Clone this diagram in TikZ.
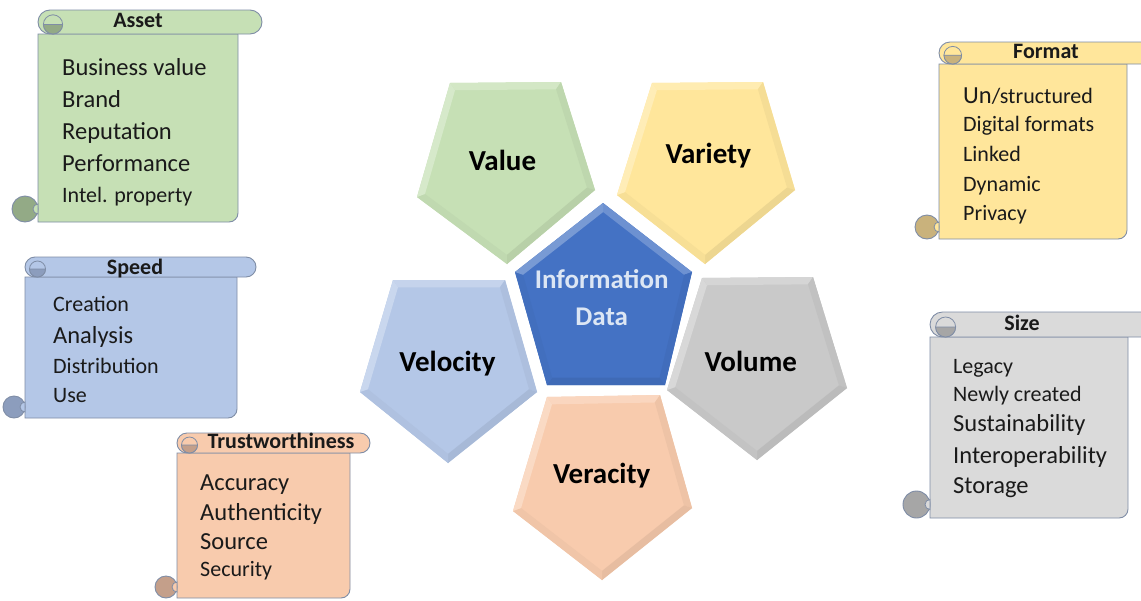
\documentclass[tikz,border=0pt]{standalone}
\usepackage{fontspec}
\setmainfont{Carlito}
\usetikzlibrary{calc}
\definecolor{sline}{HTML}{7F8DA6}
\definecolor{txt}{HTML}{1A1A1A}
\definecolor{cgreen}{HTML}{C6E0B5}
\definecolor{cgreenD}{HTML}{93AA86}
\definecolor{cyellow}{HTML}{FFE69B}
\definecolor{cyellowD}{HTML}{C9B27C}
\definecolor{cblue}{HTML}{B4C7E7}
\definecolor{cblueD}{HTML}{8C9DBD}
\definecolor{corange}{HTML}{F8CBAD}
\definecolor{corangeD}{HTML}{C49F8A}
\definecolor{cgray}{HTML}{DADADA}
\definecolor{cgrayD}{HTML}{A6A6A6}
\definecolor{pgray}{HTML}{C9C9C9}
\definecolor{pcenter}{HTML}{4472C4}
\definecolor{ctext}{HTML}{DCE6F4}
\newcommand\fsL{\fontsize{24.5}{28}\selectfont}
\newcommand\fsM{\fontsize{22}{26}\selectfont}
\tikzset{
  item/.style={anchor=base west, inner sep=0pt, text=txt},
  ttl/.style={anchor=base, inner sep=0pt, text=txt, font=\bfseries\fontsize{22}{26}\selectfont},
  plabel/.style={anchor=base, inner sep=0pt, text=black, font=\bfseries\fontsize{29}{34}\selectfont},
  clabel/.style={anchor=base, inner sep=0pt, text=ctext, font=\bfseries\fontsize{27}{32}\selectfont},
  scrollline/.style={draw=sline, line width=0.9pt}
}
% #1 x0, #2 x1, #3 xb, #4 y0, #5 yh, #6 y1, #7 fill, #8 dark, #9 name
\newcommand\myscroll[9]{%
  \pgfmathsetmacro\hr{(#5-#4)/2}%
  \pgfmathsetmacro\cra{\hr+1}%
  \pgfmathsetmacro\icr{0.8*\hr}%
  \coordinate (#9) at (#1,#4);
  \path[fill=#7, scrollline] (#1,#5) -- (#1,#6) -- ({#2-9},#6) arc(90:0:9) -- (#2,#5) -- cycle;
  \path[fill=#7, scrollline] ({#1+\hr},#4) -- ({#3-\hr},#4) arc(270:450:\hr) -- ({#1+\hr},#5) arc(90:270:\hr) -- cycle;
  \draw[sline, line width=0.8pt] ({#1+1.25*\hr},{#4+1.2*\hr}) circle(\icr);
  \path[fill=#8, draw=sline, line width=0.8pt] ({#1+1.25*\hr-\icr},{#4+1.2*\hr}) arc(180:0:\icr) -- cycle;
  \path[fill=#8, scrollline] ({#1-\cra},{#6-\cra}) circle(\cra);
  \path[fill=#7, draw=sline, line width=0.8pt] (#1,{#6-\cra-5}) arc(270:90:5) -- cycle;
}
% #1 name, #2 colour, #3-#7 vertices
\newcommand\pentagon[7]{%
  \coordinate (#1-1) at (#3);
  \coordinate (#1-2) at (#4);
  \coordinate (#1-3) at (#5);
  \coordinate (#1-4) at (#6);
  \coordinate (#1-5) at (#7);
  \coordinate (#1-c) at ($0.2*(#1-1)+0.2*(#1-2)+0.2*(#1-3)+0.2*(#1-4)+0.2*(#1-5)$);
  \foreach \k in {1,...,5}{\coordinate (#1-i\k) at ($(#1-c)!0.91!(#1-\k)$);}
  \fill[#2] (#1-1)--(#1-2)--(#1-3)--(#1-4)--(#1-5)--cycle;
  \fill[#2!78!white] (#1-1)--(#1-2)--(#1-i2)--(#1-i1)--cycle;
  \fill[#2!96!black] (#1-2)--(#1-3)--(#1-i3)--(#1-i2)--cycle;
  \fill[#2!93!black] (#1-3)--(#1-4)--(#1-i4)--(#1-i3)--cycle;
  \fill[#2!97!black] (#1-4)--(#1-5)--(#1-i5)--(#1-i4)--cycle;
  \fill[#2!72!white] (#1-5)--(#1-1)--(#1-i1)--(#1-i5)--cycle;
}
\begin{document}
\begin{tikzpicture}[x=1pt,y=-1pt]
\path[use as bounding box] (0,0) rectangle (1141,600);
\clip (0,0) rectangle (1141,600);
\fill[white] (0,0) rectangle (1141,600);

% pentagons
\pentagon{pval}{cgreen}{450,83}{561,82}{595,190}{507,264}{417,197}
\pentagon{pvar}{cyellow}{652,83}{763,82}{795,190}{705,264}{617,195}
\pentagon{pvel}{cblue}{393,280}{505,280}{537,392}{448,463}{360,392}
\pentagon{pvol}{pgray}{702,278}{813,277}{847,388}{757,460}{667,390}
\pentagon{pver}{corange}{547,397}{660,395}{692,508}{602,580}{513,511}
\pentagon{pcen}{pcenter}{603,203}{692,272}{665,385}{547,385}{515,272}

\node[plabel] (lval) at (502.5,170) {Value};
\node[plabel] (lvar) at (708.3,163.3) {Variety};
\node[plabel] (lvel) at (447.5,371.7) {Velocity};
\node[plabel] (lvol) at (750.8,371.7) {Volume};
\node[plabel] (lver) at (601.7,483.3) {Veracity};
\node[clabel] (linf) at (601.7,288.3) {Information};
\node[clabel] (ldat) at (601.7,325) {Data};

% scrolls
\myscroll{38}{238}{262}{10}{34}{222}{cgreen}{cgreenD}{sasset}
\node[ttl] (tasset) at (138,27) {Asset};
\node[item,font=\fsL] (a1) at (62,75) {Business value};
\node[item,font=\fsL] (a2) at (62,107) {Brand};
\node[item,font=\fsL] (a3) at (62,139) {Reputation};
\node[item,font=\fsL] (a4) at (62,171.5) {Performance};
\node[item,font=\fsM] (a5) at (62,202.5) {Intel. property};

\myscroll{939}{1127}{1170}{42}{64}{239}{cyellow}{cyellowD}{sformat}
\node[ttl] (tformat) at (1046,58.3) {Format};
\node[item,font=\fsM] (f1) at (963,103) {{\fsL Un}/structured};
\node[item,font=\fsM] (f2) at (963,131.7) {Digital formats};
\node[item,font=\fsM] (f3) at (963,161.7) {Linked};
\node[item,font=\fsM] (f4) at (963,191.7) {Dynamic};
\node[item,font=\fsM] (f5) at (963,220) {Privacy};

\myscroll{25}{237}{256}{257}{277}{418}{cblue}{cblueD}{sspeed}
\node[ttl] (tspeed) at (135,274) {Speed};
\node[item,font=\fsM] (s1) at (53,311.7) {Creation};
\node[item,font=\fsL] (s2) at (53,343.3) {Analysis};
\node[item,font=\fsM] (s3) at (53,373.3) {Distribution};
\node[item,font=\fsM] (s4) at (53,402.7) {Use};

\myscroll{177}{350}{370}{433}{453}{598}{corange}{corangeD}{strust}
\node[ttl] (ttrust) at (281,448.3) {Trustworthiness};
\node[item,font=\fsL] (t1) at (200,490.7) {Accuracy};
\node[item,font=\fsL] (t2) at (200,520) {Authenticity};
\node[item,font=\fsL] (t3) at (200,549) {Source};
\node[item,font=\fsM] (t4) at (200,576.7) {Security};

\myscroll{930}{1128}{1170}{312}{337}{518}{cgray}{cgrayD}{ssize}
\node[ttl] (tsize) at (1022,330.7) {Size};
\node[item,font=\fsM] (z1) at (953,373.3) {Legacy};
\node[item,font=\fsM] (z2) at (953,401.7) {Newly created};
\node[item,font=\fsL] (z3) at (953,431.7) {Sustainability};
\node[item,font=\fsL] (z4) at (953,463.3) {Interoperability};
\node[item,font=\fsL] (z5) at (953,493.3) {Storage};
\end{tikzpicture}
\end{document}
